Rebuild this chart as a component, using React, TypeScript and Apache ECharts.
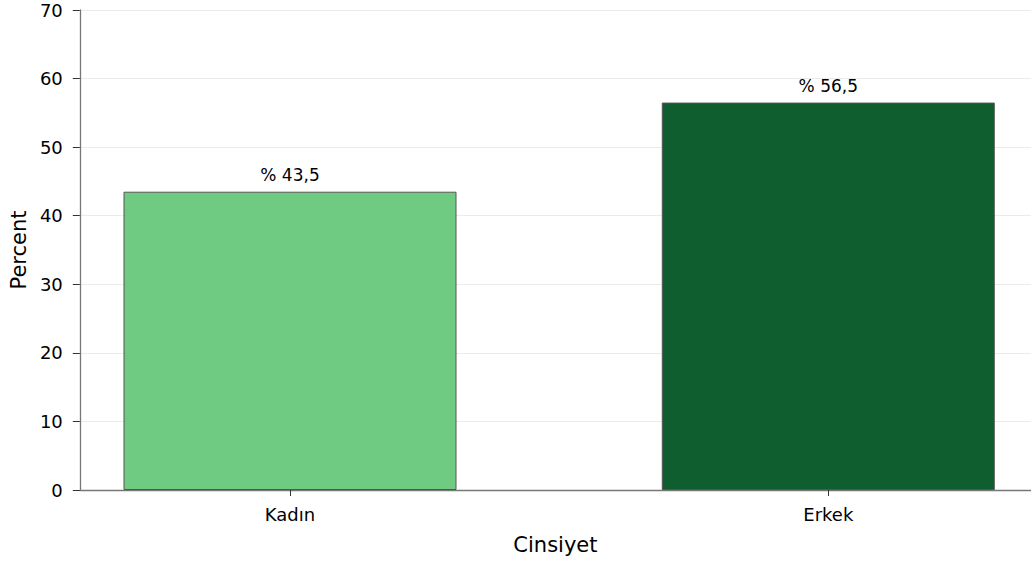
import React, { useEffect, useRef } from "react";
import * as echarts from "echarts";

const categories = ["Kadın", "Erkek"];
const values = [43.5, 56.5];
const barColors = ["#6ecb81", "#0f5e2f"];
const yTicks = [0, 10, 20, 30, 40, 50, 60, 70];

export default function App() {
  const ref = useRef<HTMLDivElement>(null);
  useEffect(() => {
    if (!ref.current) return;
    const chart = echarts.init(ref.current, null, { renderer: "svg" });
    const font = "DejaVu Sans";
    chart.setOption({
      animation: false,
      textStyle: { fontFamily: font },
      grid: { left: 79, right: 0, top: 10, bottom: 74 },
      xAxis: {
        type: "value",
        min: -0.3905,
        max: 1.3766,
        name: "Cinsiyet",
        nameLocation: "middle",
        nameGap: 44,
        nameTextStyle: { fontSize: 21, color: "#000", fontFamily: font },
        axisLine: { show: true, onZero: false, lineStyle: { color: "#777", width: 1.3 } },
        axisTick: { show: true, customValues: [0, 1], length: 6, lineStyle: { color: "#333" } },
        axisLabel: {
          customValues: [0, 1],
          formatter: (v: number) => categories[Math.round(v)] ?? "",
          fontSize: 18,
          color: "#000",
          margin: 15,
          fontFamily: font,
        },
        splitLine: { show: false },
      },
      yAxis: {
        type: "value",
        min: yTicks[0],
        max: yTicks[yTicks.length - 1],
        interval: 10,
        name: "Percent",
        nameLocation: "middle",
        nameGap: 50,
        nameTextStyle: { fontSize: 21, color: "#000", fontFamily: font },
        axisLine: { show: true, onZero: false, lineStyle: { color: "#777", width: 1.3 } },
        axisTick: { show: true, length: 7, lineStyle: { color: "#333" } },
        axisLabel: { fontSize: 18, color: "#000", margin: 17, fontFamily: font },
        splitLine: { show: true, lineStyle: { color: "#ebebeb", width: 1 } },
      },
      series: [
        {
          type: "bar",
          barWidth: 333,
          data: values.map((v, i) => ({
            value: [i, v],
            itemStyle: { color: barColors[i], borderColor: "#555", borderWidth: 1 },
          })),
          label: {
            show: true,
            position: "top",
            distance: 8,
            fontSize: 17,
            color: "#000",
            fontFamily: font,
            formatter: (p: any) => "% " + String(p.value[1]).replace(".", ","),
          },
        },
      ],
    });
    return () => chart.dispose();
  }, []);
  return (
    <div
      ref={ref}
      style={{ position: "fixed", left: 0, top: 0, width: 1031, height: 564, background: "#fff" }}
    />
  );
}
